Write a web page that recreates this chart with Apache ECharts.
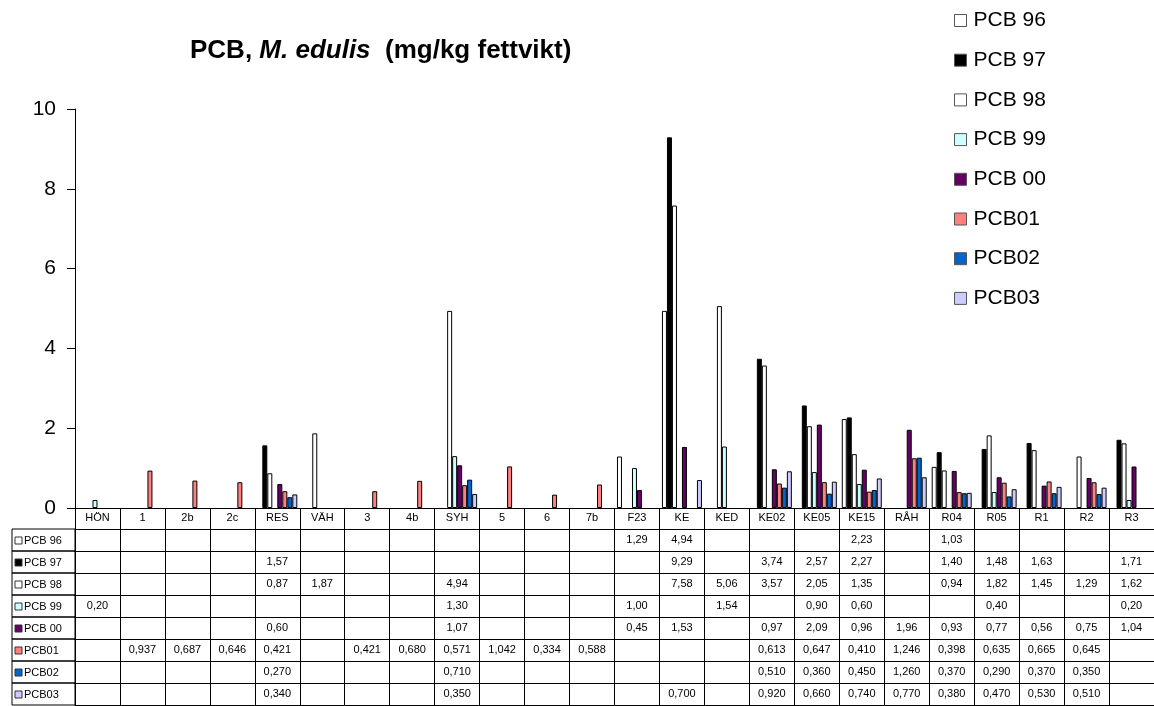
<!DOCTYPE html>
<html>
<head>
<meta charset="utf-8">
<script src="https://cdn.jsdelivr.net/npm/echarts@6/dist/echarts.min.js"></script>
<style>
  html, body { margin: 0; padding: 0; background: #fff; }
  #chart { width: 1154px; height: 706px; }
</style>
</head>
<body>
<div id="chart"></div>
<script>
// Sampling stations (x categories)
const categories = ['HÖN', '1', '2b', '2c', 'RES', 'VÄH', '3', '4b', 'SYH', '5', '6', '7b',
  'F23', 'KE', 'KED', 'KE02', 'KE05', 'KE15', 'RÅH', 'R04', 'R05', 'R1', 'R2', 'R3'];

// PCB concentrations, mg/kg fat weight, one array per sampling year
const pcb96 = [null, null, null, null, null, null, null, null, null, null, null, null,
  1.29, 4.94, null, null, null, 2.23, null, 1.03, null, null, null, null];
const pcb97 = [null, null, null, null, 1.57, null, null, null, null, null, null, null,
  null, 9.29, null, 3.74, 2.57, 2.27, null, 1.40, 1.48, 1.63, null, 1.71];
const pcb98 = [null, null, null, null, 0.87, 1.87, null, null, 4.94, null, null, null,
  null, 7.58, 5.06, 3.57, 2.05, 1.35, null, 0.94, 1.82, 1.45, 1.29, 1.62];
const pcb99 = [0.20, null, null, null, null, null, null, null, 1.30, null, null, null,
  1.00, null, 1.54, null, 0.90, 0.60, null, null, 0.40, null, null, 0.20];
const pcb00 = [null, null, null, null, 0.60, null, null, null, 1.07, null, null, null,
  0.45, 1.53, null, 0.97, 2.09, 0.96, 1.96, 0.93, 0.77, 0.56, 0.75, 1.04];
const pcb01 = [null, 0.937, 0.687, 0.646, 0.421, null, 0.421, 0.680, 0.571, 1.042, 0.334, 0.588,
  null, null, null, 0.613, 0.647, 0.410, 1.246, 0.398, 0.635, 0.665, 0.645, null];
const pcb02 = [null, null, null, null, 0.270, null, null, null, 0.710, null, null, null,
  null, null, null, 0.510, 0.360, 0.450, 1.260, 0.370, 0.290, 0.370, 0.350, null];
const pcb03 = [null, null, null, null, 0.340, null, null, null, 0.350, null, null, null,
  null, 0.700, null, 0.920, 0.660, 0.740, 0.770, 0.380, 0.470, 0.530, 0.510, null];

const seriesNames = ['PCB 96', 'PCB 97', 'PCB 98', 'PCB 99', 'PCB 00', 'PCB01', 'PCB02', 'PCB03'];
const seriesValues = [pcb96, pcb97, pcb98, pcb99, pcb00, pcb01, pcb02, pcb03];
const decimals = [2, 2, 2, 2, 2, 3, 3, 3];
const yTicks = [0, 2, 4, 6, 8, 10];

const colors = ['#FFFFFF', '#000000', '#FFFFFF', '#CCFFFF', '#660066', '#FF8080', '#0066CC', '#CCCCFF'];
const FONT = '"Liberation Sans", Arial, sans-serif';

// Plot area geometry
const GRID_LEFT = 75, GRID_TOP = 109, GRID_BOTTOM = 198, GRID_WIDTH = 1084;
const HEADER_H = 21, ROW_H = 22;
const AXIS_Y = 706 - GRID_BOTTOM;
const TABLE_FONT = 11;

function fmt(v, d) {
  return v == null ? '' : v.toFixed(d).replace('.', ',');
}

// Main category axis carrying the header row
const xAxes = [{
  type: 'category',
  data: categories,
  position: 'bottom',
  axisLine: { lineStyle: { color: '#000', width: 1 } },
  axisTick: { show: true, interval: 0, length: HEADER_H, lineStyle: { color: '#000' } },
  axisLabel: { interval: 0, color: '#000', fontSize: TABLE_FONT, fontFamily: FONT, margin: 4 }
}];

// One extra axis per series forms a row of the data table
seriesValues.forEach((vals, k) => {
  xAxes.push({
    type: 'category',
    data: categories,
    position: 'bottom',
    offset: HEADER_H + ROW_H * k,
    axisLine: { lineStyle: { color: '#000', width: 1 } },
    axisTick: { show: true, interval: 0, length: ROW_H, lineStyle: { color: '#000' } },
    axisLabel: {
      interval: 0, color: '#000', fontSize: TABLE_FONT, fontFamily: FONT, margin: 5,
      formatter: (val, idx) => fmt(vals[idx], decimals[k])
    }
  });
});
// Bottom border of the table
xAxes.push({
  type: 'category',
  data: categories,
  position: 'bottom',
  offset: HEADER_H + ROW_H * seriesValues.length,
  axisLine: { lineStyle: { color: '#000', width: 1 } },
  axisTick: { show: false },
  axisLabel: { show: false }
});

// Row labels at the left of the table
const rowLabels = [];
seriesNames.forEach((name, k) => {
  const top = AXIS_Y + HEADER_H + ROW_H * k;
  rowLabels.push({
    type: 'rect',
    shape: { x: 12, y: top, width: GRID_LEFT - 12, height: ROW_H },
    style: { fill: 'none', stroke: '#000', lineWidth: 1 }
  });
  rowLabels.push({
    type: 'rect',
    shape: { x: 15, y: top + 8, width: 7, height: 7 },
    style: { fill: colors[k], stroke: '#333', lineWidth: 1 }
  });
  rowLabels.push({
    type: 'text',
    x: 24, y: top + ROW_H / 2 + 1,
    style: { text: name, fill: '#000', font: TABLE_FONT + 'px ' + FONT, verticalAlign: 'middle' }
  });
});

const chart = echarts.init(document.getElementById('chart'), null, { renderer: 'canvas' });
chart.setOption({
  animation: false,
  backgroundColor: '#fff',
  title: {
    text: '{b|PCB, }{i|M. edulis}{b|  (mg/kg fettvikt)}',
    left: 190,
    top: 38,
    padding: 0,
    textStyle: {
      rich: {
        b: { fontSize: 26, fontWeight: 'bold', fontFamily: FONT, color: '#000' },
        i: { fontSize: 26, fontWeight: 'bold', fontStyle: 'italic', fontFamily: FONT, color: '#000' }
      }
    }
  },
  legend: {
    orient: 'vertical',
    left: 954,
    top: 10,
    padding: 0,
    itemWidth: 12,
    itemHeight: 12,
    itemGap: 18.7,
    selectedMode: false,
    icon: 'rect',
    textStyle: { fontSize: 21, fontFamily: FONT, color: '#000', padding: [0, 0, 0, 2] },
    itemStyle: { borderColor: '#555', borderWidth: 1 },
    data: seriesNames
  },
  grid: { left: GRID_LEFT, top: GRID_TOP, bottom: GRID_BOTTOM, width: GRID_WIDTH },
  xAxis: xAxes,
  yAxis: {
    type: 'value',
    min: yTicks[0],
    max: yTicks[yTicks.length - 1],
    interval: yTicks[1] - yTicks[0],
    axisLine: { show: true, lineStyle: { color: '#000', width: 1 } },
    axisTick: { show: true, length: 8, lineStyle: { color: '#000' } },
    axisLabel: { color: '#000', fontSize: 21, fontFamily: FONT, margin: 19 },
    splitLine: { show: false }
  },
  series: seriesNames.map((name, k) => ({
    name: name,
    type: 'bar',
    xAxisIndex: 0,
    data: seriesValues[k],
    barWidth: 5,
    barGap: '0%',
    itemStyle: { color: colors[k], borderColor: '#000', borderWidth: 1 }
  })),
  graphic: rowLabels
});
</script>
</body>
</html>
